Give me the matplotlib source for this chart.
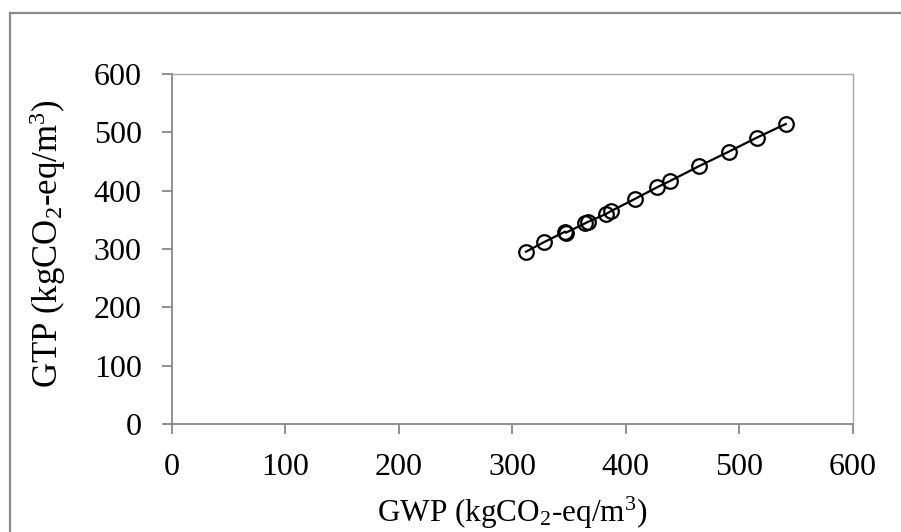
import matplotlib
matplotlib.use("Agg")
import matplotlib.pyplot as plt
from matplotlib.patches import Rectangle

# Global warming potential vs. global temperature change potential
gwp = [312.1, 328.2, 346.5, 347.3, 364.1, 367.0, 382.5, 387.0, 407.8,
       427.5, 438.9, 464.2, 490.6, 515.2, 540.8]
gtp = [295.4, 312.0, 329.7, 328.0, 344.0, 346.8, 360.0, 365.0, 385.7,
       405.8, 416.6, 441.8, 466.8, 490.8, 514.3]

x_ticks = [0, 100, 200, 300, 400, 500, 600]
y_ticks = [0, 100, 200, 300, 400, 500, 600]

plt.rcParams["font.family"] = ["Liberation Serif", "DejaVu Serif"]
plt.rcParams["mathtext.fontset"] = "custom"
plt.rcParams["mathtext.rm"] = "Liberation Serif"
plt.rcParams["mathtext.it"] = "Liberation Serif:italic"

W, H = 901, 532
fig = plt.figure(figsize=(W / 100, H / 100), dpi=100)
ax = fig.add_axes([171.5 / W, 1 - 424 / H, (853 - 171.5) / W, (424 - 74) / H])

# Outer chart frame (left and top edges visible)
fig.patches.append(Rectangle((10 / W, -0.1), 1.2, 1 - 13 / H + 0.1,
                             transform=fig.transFigure, fill=False,
                             edgecolor="#8a8a8a", linewidth=1.6))

ax.plot(gwp, gtp, color="black", linewidth=1.6, marker="o", markersize=10.5,
        markerfacecolor="none", markeredgecolor="black", markeredgewidth=1.6)

ax.set_xlim(0, 600)
ax.set_ylim(0, 600)
ax.set_xticks(x_ticks)
ax.set_yticks(y_ticks)

axis_col = "#878787"
for side in ("left", "bottom"):
    ax.spines[side].set_color(axis_col)
    ax.spines[side].set_linewidth(1.3)
for side in ("top", "right"):
    ax.spines[side].set_color("#a8a8a8")
    ax.spines[side].set_linewidth(1.0)

ax.tick_params(axis="both", direction="out", length=7.5, width=1.3,
               color=axis_col, labelsize=23, labelcolor="black")
ax.tick_params(axis="y", pad=14)
ax.tick_params(axis="x", pad=13.5)

ax.set_xlabel(r"GWP (kgCO$_2$-eq/m$^3$)", fontsize=22.5, va="center")
ax.set_ylabel(r"GTP (kgCO$_2$-eq/m$^3$)", fontsize=25, va="center")
ax.xaxis.set_label_coords(0.5, (424 - 513) / 350)
ax.yaxis.set_label_coords((48 - 171.5) / 681.5, (424 - 244) / 350)

fig.savefig("out.png", dpi=100, facecolor="white")
